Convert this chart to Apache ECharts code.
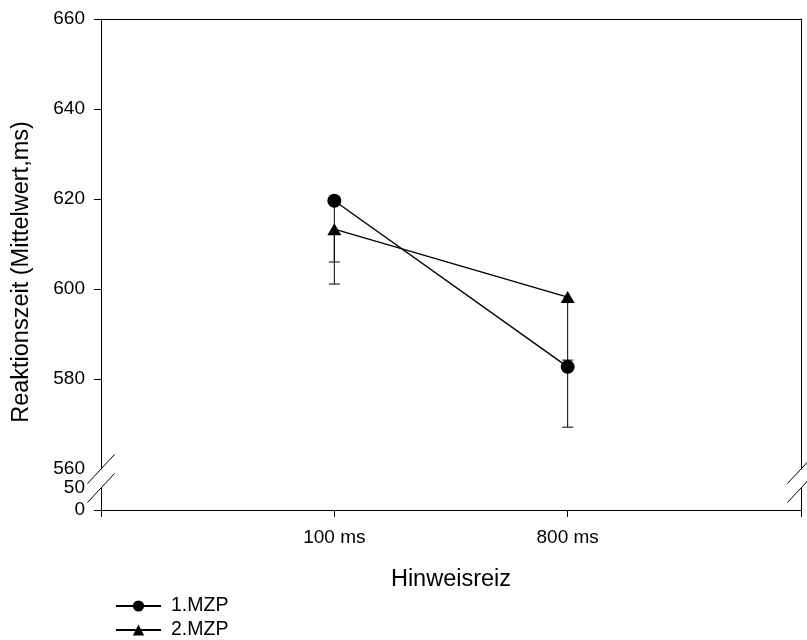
<!DOCTYPE html>
<html>
<head>
<meta charset="utf-8">
<script src="https://cdn.jsdelivr.net/npm/echarts@6/dist/echarts.min.js"></script>
<style>html,body{margin:0;padding:0;background:#fff}#c{width:807px;height:640px}</style>
</head>
<body>
<div id="c"></div>
<script>
// ---- data ----
const categories = ['100 ms', '800 ms'];
const seriesNames = ['1.MZP', '2.MZP'];
const mzp1 = [619.6, 582.7];
const mzp1Err = [13.6, 13.4];
const mzp2 = [613.3, 598.2];
const mzp2Err = [12.2, 14.0];
const yTicksUpper = [560, 580, 600, 620, 640, 660];
const yTicksLower = [0, 50];
const xTitle = 'Hinweisreiz';
const yTitle = 'Reaktionszeit (Mittelwert,ms)';

const FONT = 'Liberation Sans, Arial, sans-serif';
const chart = echarts.init(document.getElementById('c'), null, {renderer: 'canvas'});

const pts = vals => vals.map((v, i) => [i + 1, v]);
const errs = (vals, e) => vals.map((v, i) => [i + 1, v, v - e[i]]);

function renderErr(params, api) {
  const x = api.value(0), v = api.value(1), lo = api.value(2);
  const p1 = api.coord([x, v]);
  const p2 = api.coord([x, lo]);
  const st = {stroke: '#000', lineWidth: 1};
  return {
    type: 'group',
    children: [
      {type: 'line', shape: {x1: p1[0], y1: p1[1], x2: p2[0], y2: p2[1]}, style: st},
      {type: 'line', shape: {x1: p2[0] - 5.5, y1: p2[1], x2: p2[0] + 5.5, y2: p2[1]}, style: st}
    ]
  };
}

const axisLineStyle = {show: true, lineStyle: {color: '#000', width: 1}};
const TICKFONT = 19;

const option = {
  animation: false,
  backgroundColor: '#fff',
  textStyle: {fontFamily: FONT},
  grid: [
    {left: 101, right: 6, top: 19, height: 450},
    {left: 101, right: 6, top: 488, height: 22}
  ],
  xAxis: [
    {gridIndex: 0, type: 'value', min: 0, max: 3, interval: 1, position: 'top',
     axisLine: axisLineStyle, axisTick: {show: false}, axisLabel: {show: false}, splitLine: {show: false}},
    {gridIndex: 1, type: 'value', min: 0, max: 3, interval: 1, position: 'bottom',
     axisLine: axisLineStyle,
     axisTick: {show: true, length: 7, lineStyle: {color: '#000'}},
     axisLabel: {fontSize: TICKFONT, color: '#000', fontFamily: FONT, margin: 18,
       formatter: v => categories[v - 1] || ''},
     splitLine: {show: false}}
  ],
  yAxis: [
    {gridIndex: 0, type: 'value', min: yTicksUpper[0], max: yTicksUpper[yTicksUpper.length - 1], interval: 20, position: 'left',
     axisLine: axisLineStyle,
     axisTick: {show: true, length: 7, lineStyle: {color: '#000'}, customValues: yTicksUpper.slice(1)},
     axisLabel: {fontSize: TICKFONT, color: '#000', fontFamily: FONT, margin: 16, customValues: yTicksUpper},
     splitLine: {show: false}},
    {gridIndex: 0, type: 'value', min: yTicksUpper[0], max: yTicksUpper[yTicksUpper.length - 1], position: 'right',
     axisLine: axisLineStyle, axisTick: {show: false}, axisLabel: {show: false}, splitLine: {show: false}},
    {gridIndex: 1, type: 'value', min: yTicksLower[0], max: yTicksLower[1], interval: 50, position: 'left',
     axisLine: axisLineStyle,
     axisTick: {show: true, length: 7, lineStyle: {color: '#000'}, customValues: [yTicksLower[0]]},
     axisLabel: {fontSize: TICKFONT, color: '#000', fontFamily: FONT, margin: 16, customValues: yTicksLower},
     splitLine: {show: false}},
    {gridIndex: 1, type: 'value', min: yTicksLower[0], max: yTicksLower[1], position: 'right',
     axisLine: axisLineStyle, axisTick: {show: false}, axisLabel: {show: false}, splitLine: {show: false}}
  ],
  legend: {
    orient: 'vertical', left: 115, top: 596, padding: 0, itemGap: 4, itemWidth: 45, itemHeight: 14,
    height: 44,
    textStyle: {fontSize: 19.5, color: '#000', fontFamily: FONT, padding: [0, 0, 0, 5]},
    data: seriesNames
  },
  series: [
    {type: 'custom', name: 'err1', xAxisIndex: 0, yAxisIndex: 0, renderItem: renderErr,
     encode: {x: 0, y: [1, 2]}, data: errs(mzp1, mzp1Err), z: 1, silent: true},
    {type: 'custom', name: 'err2', xAxisIndex: 0, yAxisIndex: 0, renderItem: renderErr,
     encode: {x: 0, y: [1, 2]}, data: errs(mzp2, mzp2Err), z: 1, silent: true},
    {type: 'line', name: seriesNames[0], xAxisIndex: 0, yAxisIndex: 0, data: pts(mzp1),
     symbol: 'circle', symbolSize: 14, z: 3,
     lineStyle: {color: '#000', width: 1.4}, itemStyle: {color: '#000'}},
    {type: 'line', name: seriesNames[1], xAxisIndex: 0, yAxisIndex: 0, data: pts(mzp2),
     symbol: 'triangle', symbolSize: [14, 12], z: 3,
     lineStyle: {color: '#000', width: 1.4}, itemStyle: {color: '#000'}}
  ]
};
chart.setOption(option);

// axis break marks & titles (decoration, positioned from grid geometry)
const pTL = chart.convertToPixel({gridIndex: 0}, [0, yTicksUpper[0]]);
const pTR = chart.convertToPixel({gridIndex: 0}, [3, yTicksUpper[0]]);
const pBL = chart.convertToPixel({gridIndex: 1}, [0, yTicksLower[1]]);
const pBR = chart.convertToPixel({gridIndex: 1}, [3, yTicksLower[1]]);
const pX0 = chart.convertToPixel({gridIndex: 1}, [0, 0]);
const pX3 = chart.convertToPixel({gridIndex: 1}, [3, 0]);
const slash = (p) => ({type: 'line', shape: {x1: p[0] - 13.5, y1: p[1] + 14.5, x2: p[0] + 13.5, y2: p[1] - 14.5},
  style: {stroke: '#000', lineWidth: 1}, z: 10});
chart.setOption({
  graphic: [
    slash(pTL), slash(pTR), slash(pBL), slash(pBR),
    {type: 'text', x: (pX0[0] + pX3[0]) / 2, y: 580,
     style: {text: xTitle, font: '23.5px ' + FONT, fill: '#000', textAlign: 'center', textVerticalAlign: 'middle'}},
    {type: 'text', x: 22, y: 272, rotation: Math.PI / 2,
     style: {text: yTitle, font: '23.5px ' + FONT, fill: '#000', textAlign: 'center', textVerticalAlign: 'middle'}}
  ]
});
</script>
</body>
</html>
